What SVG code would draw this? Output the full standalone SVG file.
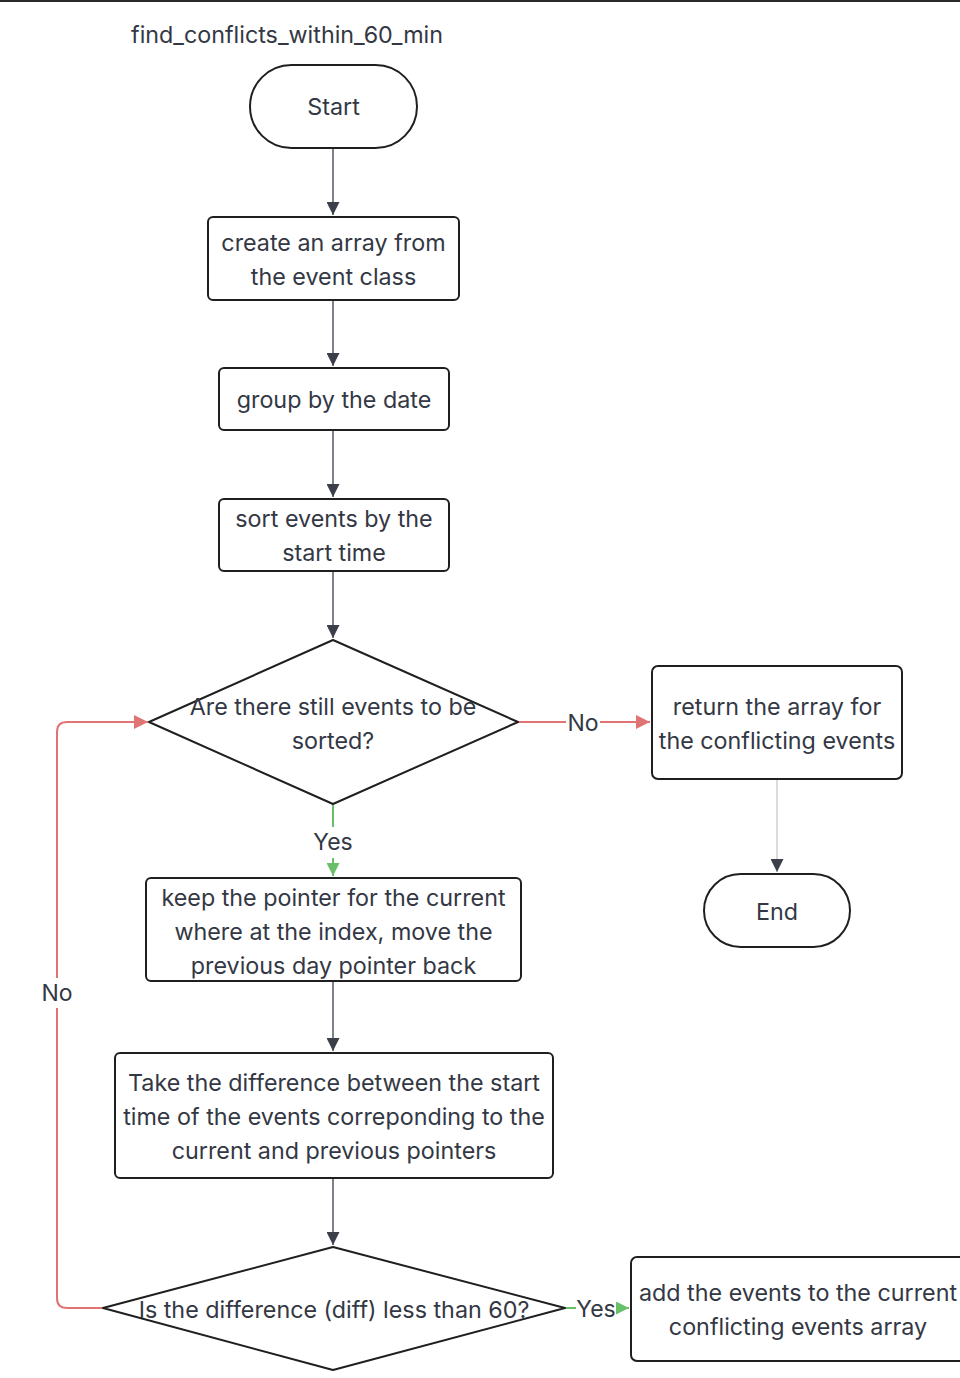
<svg xmlns="http://www.w3.org/2000/svg" width="960" height="1378" viewBox="0 0 960 1378">
<defs>
<style>
.n{fill:#fff;stroke:#1f1f1f;stroke-width:2}
.t{font-family:Inter,"Noto Sans",sans-serif;font-size:23.3px;fill:#333844;text-anchor:middle;dominant-baseline:central}
.lbl{font-family:Inter,"Noto Sans",sans-serif;font-size:23px;fill:#333844;text-anchor:middle;dominant-baseline:central}
.g{stroke:#3a3f4a;stroke-width:1.3;fill:none}
.gl{stroke:#c8c8c8;stroke-width:1.3;fill:none}
.r{stroke:#e07472;stroke-width:2;fill:none}
.gr{stroke:#6abf69;stroke-width:2;fill:none}
</style>
<marker id="ag" viewBox="0 0 10 10" refX="10" refY="5" markerWidth="13" markerHeight="13" markerUnits="userSpaceOnUse" orient="auto"><path d="M0,0L10,5L0,10z" fill="#3a3f4a"/></marker>
<marker id="ar" viewBox="0 0 10 10" refX="10" refY="5" markerWidth="16" markerHeight="14" markerUnits="userSpaceOnUse" orient="auto"><path d="M0,0L10,5L0,10z" fill="#e07472"/></marker>
<marker id="agr" viewBox="0 0 10 10" refX="10" refY="5" markerWidth="13" markerHeight="13" markerUnits="userSpaceOnUse" orient="auto"><path d="M0,0L10,5L0,10z" fill="#6abf69"/></marker>
</defs>
<rect x="0" y="0" width="960" height="1378" fill="#fff"/>
<rect x="0" y="0" width="960" height="2" fill="#2a2a2a"/>
<text class="t" x="287" y="34" textLength="312" lengthAdjust="spacingAndGlyphs">find_conflicts_within_60_min</text>

<g id="connectors">
<line class="g" x1="333" y1="148" x2="333" y2="215" marker-end="url(#ag)"/>
<line class="g" x1="333" y1="300" x2="333" y2="366" marker-end="url(#ag)"/>
<line class="g" x1="333" y1="430" x2="333" y2="497" marker-end="url(#ag)"/>
<line class="g" x1="333" y1="571" x2="333" y2="638" marker-end="url(#ag)"/>
<line class="r" x1="518" y1="722" x2="566" y2="722"/>
<line class="r" x1="600" y1="722" x2="650" y2="722" marker-end="url(#ar)"/>
<text class="lbl" x="583" y="723">No</text>
<line class="gl" x1="777" y1="779" x2="777" y2="872" marker-end="url(#ag)"/>
<line class="gr" x1="333" y1="804" x2="333" y2="827"/>
<line class="gr" x1="333" y1="858" x2="333" y2="876" marker-end="url(#agr)"/>
<text class="lbl" x="333" y="842">Yes</text>
<line class="g" x1="333" y1="981" x2="333" y2="1051" marker-end="url(#ag)"/>
<line class="g" x1="333" y1="1178" x2="333" y2="1245" marker-end="url(#ag)"/>
<line class="gr" x1="565" y1="1308" x2="576" y2="1308"/>
<line class="gr" x1="616" y1="1308" x2="629" y2="1308" marker-end="url(#agr)"/>
<text class="lbl" x="596" y="1309">Yes</text>
<path class="r" d="M103,1308 H67 Q57,1308 57,1298 V1008"/>
<path class="r" d="M57,978 V732 Q57,722 67,722 H148" marker-end="url(#ar)"/>
<text class="lbl" x="57" y="993">No</text>
</g>

<g id="start">
<rect class="n" x="250" y="65" width="167" height="83" rx="41.5"/>
<text class="t" x="333.5" y="106">Start</text>
</g>
<g id="create-array">
<rect class="n" x="208" y="217" width="251" height="83" rx="5"/>
<text class="t" x="333.5" y="242">create an array from</text>
<text class="t" x="333.5" y="276">the event class</text>
</g>
<g id="group-date">
<rect class="n" x="219" y="368" width="230" height="62" rx="5"/>
<text class="t" x="334" y="399">group by the date</text>
</g>
<g id="sort-events">
<rect class="n" x="219" y="499" width="230" height="72" rx="5"/>
<text class="t" x="334" y="518">sort events by the</text>
<text class="t" x="334" y="552">start time</text>
</g>
<g id="decision-events">
<path class="n" d="M333,640 L518,722 L333,804 L149,722 Z" stroke-linejoin="round"/>
<text class="t" x="333" y="706">Are there still events to be</text>
<text class="t" x="333" y="740">sorted?</text>
</g>
<g id="return-array">
<rect class="n" x="652" y="666" width="250" height="113" rx="6"/>
<text class="t" x="777" y="706">return the array for</text>
<text class="t" x="777" y="740">the conflicting events</text>
</g>
<g id="end">
<rect class="n" x="704" y="874" width="146" height="73" rx="36.5"/>
<text class="t" x="777" y="911">End</text>
</g>
<g id="keep-pointer">
<rect class="n" x="146" y="878" width="375" height="103" rx="5"/>
<text class="t" x="333.5" y="897">keep the pointer for the current</text>
<text class="t" x="333.5" y="931">where at the index, move the</text>
<text class="t" x="333.5" y="965">previous day pointer back</text>
</g>
<g id="take-difference">
<rect class="n" x="115" y="1053" width="438" height="125" rx="5"/>
<text class="t" x="334" y="1082">Take the difference between the start</text>
<text class="t" x="334" y="1116">time of the events correponding to the</text>
<text class="t" x="334" y="1150">current and previous pointers</text>
</g>
<g id="decision-diff">
<path class="n" d="M333,1247 L565,1308 L333,1370 L103,1308 Z" stroke-linejoin="round"/>
<text class="t" x="334" y="1309">Is the difference (diff) less than 60?</text>
</g>
<g id="add-events">
<rect class="n" x="631" y="1257" width="340" height="104" rx="6"/>
<text class="t" x="798" y="1292">add the events to the current</text>
<text class="t" x="798" y="1326">conflicting events array</text>
</g>
</svg>
